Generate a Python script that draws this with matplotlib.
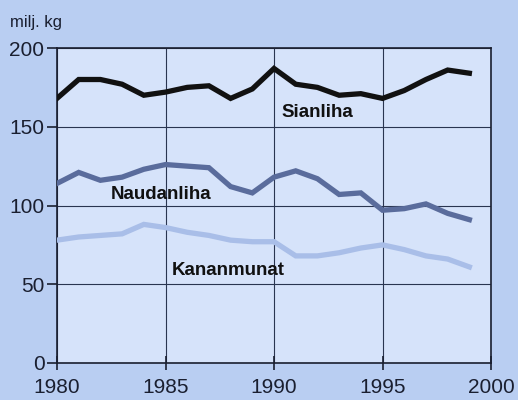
import matplotlib
matplotlib.use('Agg')
import matplotlib.pyplot as plt
from matplotlib import font_manager

# values (milj. kg)
years = list(range(1980, 2000))
sianliha = [168, 180, 180, 177, 170, 172, 175, 176, 168, 174,
            187, 177, 175, 170, 171, 168, 173, 180, 186, 184]
naudanliha = [114, 121, 116, 118, 123, 126, 125, 124, 112, 108,
              118, 122, 117, 107, 108, 97, 98, 101, 95, 91]
kananmunat = [78, 80, 81, 82, 88, 86, 83, 81, 78, 77,
              77, 68, 68, 70, 73, 75, 72, 68, 66, 61]

series_names = ['Sianliha', 'Naudanliha', 'Kananmunat']
label_pos = [(1992.0, 159), (1984.8, 107), (1987.9, 59)]

colors = ['#111111', '#5a6c9c', '#a9bee8']
plt.rcParams['font.family'] = ['Liberation Sans', 'DejaVu Sans']

# condensed face for the series labels if present
narrow = [f.name for f in font_manager.fontManager.ttflist if 'Narrow' in f.name or 'Condensed' in f.name]
label_family = ['Liberation Sans Narrow', 'Liberation Sans'] if 'Liberation Sans Narrow' in narrow else ['Liberation Sans']
label_size = 16 if 'Liberation Sans Narrow' in narrow else 13.5

fig = plt.figure(figsize=(5.18, 4.0), dpi=100)
fig.patch.set_facecolor('#b9cef2')
ax = fig.add_axes([0.110, 0.0925, 0.838, 0.7875])
ax.set_facecolor('#d6e3fa')

for vals, c in zip([sianliha, naudanliha, kananmunat], colors):
    ax.plot(years, vals, color=c, linewidth=3.8, solid_joinstyle='miter', zorder=3)

for name, (x, y) in zip(series_names, label_pos):
    ax.text(x, y, name, ha='center', va='center', fontsize=label_size, fontweight='bold',
            family=label_family, color='#111111', zorder=4)

ax.set_xlim(1980, 2000)
ax.set_ylim(0, 200)
ax.set_xticks([1980, 1985, 1990, 1995, 2000])
ax.set_yticks([0, 50, 100, 150, 200])
ax.grid(True, color='#2a3550', linewidth=0.8)
for s in ax.spines.values():
    s.set_color('#1a1f30')
    s.set_linewidth(1.2)
ax.tick_params(axis='both', labelsize=15, colors='#1a1f30', length=7, width=1.2, pad=2)
ax.tick_params(axis='x', direction='inout', length=10, pad=6)

fig.text(0.02, 0.945, 'milj. kg', fontsize=12, color='#1a1f30', ha='left', va='center')

fig.savefig('out.png', dpi=100, facecolor=fig.get_facecolor())
